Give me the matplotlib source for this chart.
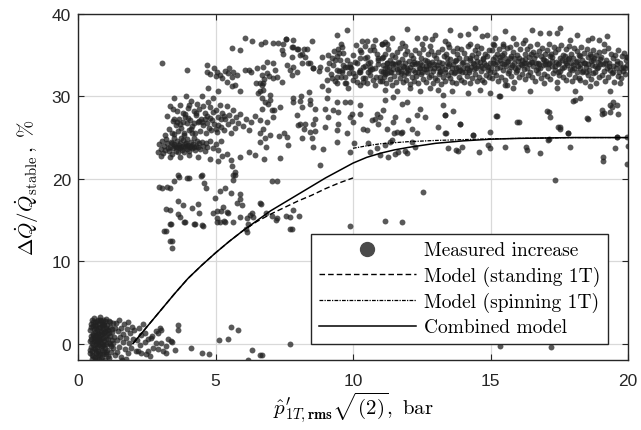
import matplotlib
matplotlib.use('Agg')
import matplotlib.pyplot as plt
from matplotlib.lines import Line2D

# ------------------------------------------------------------------ data
# model curves
comb_x = [2.0, 2.5, 3.0, 3.5, 4.0, 4.5, 5.0, 5.5, 6.0, 6.5, 7.0, 7.5, 8.0, 8.5, 9.0,
          9.5, 10.0, 10.5, 11.0, 11.5, 12.0, 12.5, 13.0, 13.5, 14.0, 15.0, 16.0, 17.0,
          18.0, 19.0, 20.0]
comb_y = [0.0, 2.0, 4.0, 6.0, 7.9, 9.5, 11.0, 12.4, 13.7, 14.9, 16.1, 17.1, 18.1, 19.1,
          20.1, 21.0, 21.9, 22.6, 23.1, 23.5, 23.8, 24.05, 24.3, 24.45, 24.6, 24.8,
          24.9, 24.95, 25.0, 25.0, 25.0]
stand_x = [2.0, 2.5, 3.0, 3.5, 4.0, 4.5, 5.0, 5.5, 6.0, 6.5, 7.0, 7.5, 8.0, 8.5, 9.0,
           9.5, 10.0]
stand_y = [0.0, 2.0, 4.0, 6.0, 7.9, 9.5, 11.0, 12.4, 13.7, 14.8, 15.7, 16.5, 17.3,
           18.0, 18.8, 19.5, 20.1]
spin_x = [10.0, 10.5, 11.0, 12.0, 13.0, 14.0, 15.0, 16.0, 17.0, 18.0, 20.0]
spin_y = [23.7, 24.0, 24.25, 24.5, 24.65, 24.75, 24.85, 24.9, 24.95, 25.0, 25.0]

# measured points (x: p'_1T,rms*sqrt2 [bar], y: dQ/Q [%])
pts_zero = [
    (0.42, -1.2), (0.44, 0.3), (0.45, 1.6), (0.46, 2.4), (0.47, -0.4), (0.48, 0.9), (0.5, -1.9),
    (0.5, 2.9), (0.51, -0.9), (0.52, 0.1), (0.53, 1.2), (0.54, 2.1), (0.55, -1.5), (0.56, -0.2),
    (0.57, 0.7), (0.58, 1.8), (0.59, 3.1), (0.6, -2.0), (0.6, -0.7), (0.61, 0.4), (0.62, 1.4),
    (0.63, 2.6), (0.64, -1.2), (0.65, 0.0), (0.66, 1.0), (0.67, 2.2), (0.68, -1.7), (0.69, -0.4),
    (0.7, 0.6), (0.7, 1.7), (0.71, 2.9), (0.72, -0.9), (0.73, 0.2), (0.74, 1.3), (0.75, 2.4),
    (0.76, -1.9), (0.77, -0.2), (0.78, 0.8), (0.79, 2.0), (0.8, 3.2), (0.8, -1.3), (0.81, 0.4),
    (0.82, 1.5), (0.83, 2.7), (0.84, -0.6), (0.85, 0.1), (0.86, 1.1), (0.87, 2.1), (0.88, -1.6),
    (0.89, -0.3), (0.9, 0.7), (0.91, 1.8), (0.92, 2.9), (0.93, -1.0), (0.94, 0.3), (0.95, 1.3),
    (0.96, 2.4), (0.97, -2.0), (0.98, -0.5), (0.99, 0.9), (1.0, 1.9), (1.01, 3.0), (1.02, -1.3),
    (1.03, 0.0), (1.05, 1.2), (1.06, 2.3), (1.07, -0.8), (1.09, 0.5), (1.1, 1.6), (1.12, 2.7),
    (1.13, -1.7), (1.15, -0.1), (1.16, 0.9), (1.18, 2.0), (1.2, -1.0), (1.22, 0.4), (1.24, 1.4),
    (1.26, 2.5), (1.28, -0.5), (1.3, 0.8), (1.33, 1.9), (1.35, -1.4),
    (0.45, -0.8), (0.47, 2.0), (0.49, 0.5), (0.52, -1.4), (0.53, 2.6), (0.55, 1.0), (0.57, -0.6),
    (0.58, 0.3), (0.6, 2.3), (0.62, -1.6), (0.63, 0.8), (0.65, 1.9), (0.66, -0.9), (0.68, 0.3),
    (0.69, 2.7), (0.71, -1.4), (0.72, 1.1), (0.74, -0.1), (0.75, 1.9), (0.77, 0.5), (0.78, -1.2),
    (0.79, 2.8), (0.81, 1.0), (0.83, -1.9), (0.84, 0.6), (0.86, 2.4), (0.87, -0.8), (0.89, 1.4),
    (0.9, -1.3), (0.92, 0.0), (0.93, 2.2), (0.95, -0.2), (0.97, 1.5), (0.98, 2.7), (1.0, -1.0),
    (1.02, 0.6), (1.04, 1.7), (1.08, -1.5), (1.11, 0.1), (1.14, 1.3), (1.17, 2.6), (1.21, -0.3),
    (1.25, 1.8), (1.29, 0.1),
]
pts_tail = [
    (1.38, 2.5), (1.4, 0.4), (1.42, -1.0), (1.45, 1.5), (1.48, 2.8), (1.5, -0.4), (1.53, 0.8),
    (1.56, 1.9), (1.58, -1.6), (1.62, 0.2), (1.65, 1.2), (1.68, 2.4), (1.7, -0.7), (1.74, 0.7),
    (1.78, 1.8), (1.8, -1.2), (1.83, 2.6), (1.86, 0.1), (1.9, 1.3), (1.93, -0.5), (1.97, 2.0),
    (2.0, 0.6), (2.05, 1.6), (2.1, -0.9), (2.15, 0.4), (2.2, 1.9), (2.25, -0.2), (2.3, 1.0),
    (2.38, 2.4), (2.45, 0.2), (1.6, -2.0), (1.75, -1.9),
    (2.42, 1.3), (2.55, 0.5), (2.91, 1.3), (3.03, 1.7), (2.67, 0.7), (2.85, 0.1), (3.03, 0.1),
    (3.27, 0.5), (3.51, -0.8), (3.39, 0.3), (2.18, -0.9), (2.3, -1.1), (2.55, -0.9), (2.73, -0.5),
    (2.91, -0.7), (3.09, -0.9), (3.21, -1.1), (2.48, -1.3), (2.68, 0.9), (2.85, 1.5), (2.97, 1.9),
    (3.4, 0.2), (3.64, 2.2), (3.64, 1.6), (3.2, -0.3), (2.6, -1.5), (4.1, -0.6), (4.5, -1.2),
    (4.75, -1.3), (5.13, 0.4), (5.45, 0.5), (5.57, 2.0), (5.82, 1.6), (6.17, -2.0), (6.33, -0.8),
    (6.61, -1.4), (6.68, -1.4), (7.72, -0.1), (15.35, -0.3), (17.2, -0.4),
]
pts_mid_low = [
    (3.2, 13.7), (3.38, 14.5), (3.4, 12.5), (3.4, 11.6), (3.85, 14.8), (4.2, 14.5), (4.5, 14.4),
    (5.04, 14.8), (5.3, 14.9), (6.1, 13.9), (7.2, 15.0), (7.7, 13.9),
    (3.65, 20.4), (3.67, 20.2), (3.95, 20.1), (4.02, 20.1), (4.46, 20.3), (4.58, 19.5),
    (4.64, 18.9), (3.04, 18.9), (3.34, 18.9), (3.65, 17.3), (3.83, 16.8), (3.34, 16.2),
    (3.65, 15.7), (3.71, 15.3), (4.13, 16.4), (4.37, 16.9), (4.4, 15.9), (3.89, 14.8),
    (4.25, 14.5), (4.55, 14.3), (3.34, 14.5), (3.13, 13.7), (3.34, 12.5), (4.98, 17.7),
    (5.16, 18.5), (5.34, 18.9), (5.65, 20.4), (5.65, 19.8), (5.58, 18.3), (5.89, 18.1),
    (5.89, 17.6), (5.77, 17.1), (5.95, 16.8), (6.67, 16.9), (4.92, 15.9), (5.07, 16.1),
    (5.2, 16.1), (5.28, 16.6), (5.4, 16.0), (5.44, 15.8), (5.04, 15.2), (5.16, 14.8),
    (5.34, 14.7), (5.65, 14.8), (5.89, 15.4), (6.13, 15.2), (6.31, 15.8), (6.25, 15.6),
    (6.38, 15.4), (6.19, 14.5), (6.13, 13.5), (6.85, 15.9),
    (2.94, 19.0), (3.22, 19.0), (3.2, 16.3), (3.5, 19.7), (4.5, 20.4), (5.1, 22.1),
    (5.6, 21.6), (5.7, 20.8), (5.72, 20.4),
    (6.76, 22.4), (7.34, 22.5), (7.07, 19.7), (7.22, 19.7), (6.62, 17.0), (7.07, 15.5),
    (7.22, 15.2), (7.58, 15.5), (7.7, 15.3), (8.05, 15.5), (7.8, 16.2), (7.77, 13.9),
    (8.8, 21.7), (9.89, 14.3), (11.16, 14.9), (11.77, 14.7), (12.56, 18.4), (17.35, 19.9),
]
pts_band_low = [
    (2.9, 23.3), (2.95, 24.2), (3.0, 23.6), (3.05, 24.6), (3.1, 23.1), (3.12, 24.0), (3.18, 23.5),
    (3.2, 24.8), (3.25, 24.3), (3.3, 23.4), (3.33, 23.9), (3.38, 24.5), (3.4, 23.0), (3.45, 23.7),
    (3.48, 24.9), (3.5, 24.2), (3.55, 23.4), (3.58, 23.9), (3.6, 24.6), (3.63, 23.2), (3.66, 24.1),
    (3.7, 23.7), (3.72, 24.4), (3.75, 25.0), (3.78, 23.5), (3.8, 24.0), (3.83, 24.7), (3.86, 23.3),
    (3.9, 23.9), (3.92, 24.3), (3.95, 23.6), (3.98, 24.8), (4.0, 24.1), (4.04, 23.4), (4.07, 23.9),
    (4.1, 24.5), (4.13, 23.7), (4.17, 24.2), (4.2, 24.9), (4.24, 23.5), (4.28, 24.0), (4.32, 24.6),
    (4.36, 23.8), (4.4, 24.3), (4.45, 23.6), (4.5, 24.5), (4.55, 24.0), (4.6, 23.4), (4.65, 24.4),
    (4.7, 23.9), (4.8, 24.6), (4.9, 23.7), (5.0, 24.2), (5.1, 23.5), (5.2, 24.6), (3.0, 22.8),
    (3.35, 22.6), (3.7, 22.7), (4.05, 22.9), (4.35, 22.6), (3.15, 25.3), (3.5, 25.4), (3.85, 25.3),
    (4.15, 25.5), (3.28, 23.7), (3.62, 23.8), (3.88, 24.2), (4.22, 23.9), (3.52, 24.0),
    (3.95, 24.0), (3.42, 24.3), (3.74, 23.9), (4.12, 24.0), (5.4, 23.0), (5.55, 22.3),
    (5.9, 22.6), (6.2, 23.3), (6.45, 22.9), (4.8, 22.4), (5.25, 22.8),
]
pts_blob = [
    (3.25, 27.6), (3.3, 26.0), (3.35, 28.8), (3.4, 25.6), (3.45, 27.0), (3.5, 29.8), (3.55, 26.5),
    (3.6, 28.2), (3.62, 25.8), (3.68, 27.3), (3.72, 29.0), (3.76, 26.2), (3.8, 28.0), (3.84, 25.5),
    (3.88, 27.5), (3.92, 30.0), (3.96, 26.8), (4.0, 28.6), (4.04, 25.9), (4.08, 27.1), (4.12, 29.5),
    (4.16, 26.4), (4.2, 28.2), (4.24, 25.6), (4.28, 27.7), (4.32, 29.1), (4.36, 26.9), (4.4, 28.5),
    (4.44, 25.8), (4.48, 27.3), (4.52, 30.1), (4.56, 26.5), (4.6, 28.0), (4.64, 25.5), (4.68, 27.6),
    (4.72, 29.3), (4.76, 26.2), (4.8, 28.7), (4.84, 25.9), (4.88, 27.1), (4.92, 29.8), (4.96, 26.7),
    (5.0, 28.3), (5.05, 25.7), (5.1, 27.5), (5.15, 29.0), (5.2, 26.3), (5.25, 28.0), (5.3, 25.9),
    (5.35, 27.2), (5.4, 28.8), (5.45, 26.6), (5.5, 27.8), (5.55, 25.6), (5.6, 27.0), (5.65, 28.4),
    (5.7, 26.2), (5.75, 27.5), (5.8, 26.8), (5.9, 27.9), (6.0, 26.4), (6.1, 27.3), (6.2, 25.9),
    (6.3, 26.9), (6.45, 27.6), (6.6, 25.6),
    (3.5, 27.2), (3.7, 26.6), (3.9, 27.9), (4.1, 26.1), (4.3, 28.0), (4.5, 26.9), (4.7, 26.8),
    (4.9, 28.1), (5.1, 26.5), (5.3, 27.6), (3.6, 26.9), (4.0, 27.4), (4.4, 27.0), (4.8, 27.4),
    (5.2, 27.3), (3.8, 26.9), (4.2, 26.8), (4.6, 27.2), (3.45, 28.5), (4.05, 29.0), (4.55, 28.8),
    (5.0, 26.0),
]
pts_upper_left = [
    (3.95, 33.2), (4.68, 33.0), (4.8, 32.7), (5.0, 32.5), (5.16, 32.6), (5.35, 33.1), (5.47, 32.8),
    (5.59, 32.4), (5.77, 32.6), (6.08, 33.2), (6.2, 33.2), (6.62, 31.6), (6.74, 30.8), (6.86, 32.8),
    (4.74, 31.0), (5.1, 30.6), (5.4, 31.8), (5.71, 31.4), (5.89, 30.6), (6.56, 30.4),
    (3.04, 34.1), (5.6, 35.9), (5.88, 35.6), (6.08, 37.1), (4.68, 33.8), (4.93, 33.4),
    (5.05, 33.0), (5.22, 32.2), (5.5, 33.5), (5.63, 32.9), (5.6, 31.2), (6.3, 32.9), (6.5, 33.5),
    (6.34, 36.7), (6.65, 36.3), (7.1, 36.5), (7.58, 37.0), (7.42, 35.6), (7.77, 36.0),
    (8.0, 35.8), (8.38, 34.1), (8.55, 33.5), (8.75, 33.1), (7.6, 33.8), (7.72, 33.2),
    (7.23, 32.3), (6.93, 32.5), (6.75, 32.1), (6.7, 31.4), (6.48, 31.6), (6.6, 30.6),
    (6.7, 29.8), (6.8, 29.3), (7.14, 28.3), (7.8, 29.8), (8.1, 30.0), (8.4, 30.5), (8.6, 28.5),
    (8.25, 26.6), (8.6, 27.2), (8.62, 25.8), (7.5, 25.6), (7.3, 25.2),
    (9.77, 38.1), (9.43, 37.4), (9.55, 36.4), (9.59, 36.0), (9.47, 35.7), (9.5, 35.3), (7.57, 37.0),
    (7.83, 36.9), (8.52, 36.7), (7.29, 36.5), (7.47, 36.3), (6.8, 36.6), (7.83, 36.0),
    (7.98, 35.7), (8.2, 35.8), (8.32, 35.7), (8.07, 35.0), (8.14, 35.2), (8.26, 34.8), (7.77, 34.8),
    (7.47, 35.2), (6.86, 34.2), (7.1, 34.0), (6.74, 33.6), (6.68, 32.6), (6.72, 31.6), (7.1, 32.2),
    (7.41, 31.8), (7.17, 33.2), (7.77, 32.6), (7.95, 33.0), (7.83, 33.6), (8.14, 34.0),
    (8.44, 34.0), (8.56, 33.4), (8.8, 33.6), (8.86, 34.8), (9.1, 35.0), (9.23, 34.6), (9.35, 34.4),
    (9.53, 34.4), (9.65, 33.8), (9.77, 33.6), (9.41, 33.2), (9.59, 33.0), (9.71, 32.4),
    (9.41, 32.4), (9.23, 32.2), (9.04, 32.0), (8.86, 31.3), (9.1, 30.8), (9.41, 31.6), (9.71, 31.6),
    (9.83, 31.0), (10.01, 32.0), (10.01, 32.8), (9.89, 33.6), (10.26, 33.2), (10.38, 33.6),
    (10.56, 34.0), (10.62, 33.2), (10.8, 33.4), (10.92, 34.4), (11.1, 34.8), (11.23, 34.0),
    (11.17, 33.0), (10.98, 32.4), (10.74, 32.0), (10.5, 31.6), (10.26, 31.4), (10.14, 31.8),
    (10.38, 32.2), (10.62, 32.6), (10.86, 35.2), (10.62, 35.6), (10.44, 36.1), (10.32, 36.7),
    (10.5, 36.7), (10.8, 36.9), (11.04, 36.3), (11.23, 36.3), (10.74, 36.1), (10.26, 35.6),
    (10.07, 34.2), (10.26, 34.6), (10.44, 34.6),
]
pts_mid_scatter = [
    (6.98, 30.2), (6.98, 29.6), (6.92, 29.1), (6.68, 28.5), (7.04, 28.3), (6.62, 27.1), (7.1, 27.5),
    (6.86, 26.9), (7.35, 28.7), (7.83, 29.3), (8.07, 29.5), (8.44, 29.6), (8.14, 28.7),
    (7.95, 27.7), (8.07, 26.7), (8.01, 26.5), (8.2, 26.1), (8.44, 25.7), (8.56, 26.7), (8.44, 29.1),
    (9.04, 29.8), (9.41, 29.3), (9.71, 29.3), (9.89, 29.3), (8.98, 28.5), (9.29, 28.3),
    (9.47, 28.1), (9.1, 27.5), (8.98, 26.3), (9.47, 26.7), (9.41, 25.9), (9.95, 27.9),
    (9.89, 27.5), (10.01, 26.9), (9.77, 25.5), (10.26, 28.9), (10.26, 27.9), (10.38, 26.1),
    (10.5, 25.9), (10.68, 27.1), (10.8, 27.2), (10.86, 27.9), (10.98, 27.5), (10.92, 26.7),
    (7.59, 25.1), (8.14, 24.9), (8.5, 24.9), (6.8, 24.9), (6.98, 25.3),
    (6.74, 26.1), (6.62, 24.5), (6.84, 23.9), (7.65, 24.1), (8.56, 23.9), (8.92, 23.6),
    (9.43, 24.5), (9.89, 23.3), (10.04, 24.4), (10.56, 24.3), (10.62, 23.2), (10.86, 23.7),
    (11.16, 24.1), (11.28, 22.6), (10.98, 22.9), (11.34, 24.5), (11.5, 25.6), (11.75, 25.6),
    (11.52, 23.0), (11.64, 23.2), (11.88, 23.4), (11.95, 23.1), (12.15, 24.5), (12.27, 23.9),
    (12.33, 25.5), (13.39, 25.5), (13.45, 23.7), (13.76, 23.5), (13.82, 23.4), (13.98, 23.8),
    (14.37, 25.3), (14.59, 23.2), (14.92, 24.1), (14.98, 23.7), (15.53, 23.8), (16.3, 23.9),
    (16.33, 23.5), (16.81, 23.1), (17.08, 24.7), (17.53, 26.1), (17.83, 25.5), (17.9, 23.9),
    (19.1, 22.6), (19.1, 22.2), (19.53, 23.7), (19.6, 25.1), (19.96, 21.8), (20.0, 24.0),
    (11.16, 29.6), (11.46, 29.9), (11.1, 28.3), (11.77, 29.1), (11.95, 29.3), (11.46, 26.9),
    (11.53, 27.5), (11.22, 26.1), (11.59, 25.7), (11.77, 25.7), (12.13, 26.1), (12.01, 27.1),
    (12.31, 27.7), (12.62, 27.5), (13.28, 28.9), (13.65, 28.2), (13.34, 27.7), (13.89, 26.7),
    (13.1, 26.3), (13.34, 25.5), (14.37, 25.3), (14.98, 25.7), (15.22, 27.6), (11.4, 24.7),
    (15.35, 30.0), (18.08, 29.6), (18.26, 29.8), (17.11, 28.1), (17.17, 27.5), (16.02, 26.9),
    (17.53, 26.3), (17.83, 25.5), (18.56, 27.3), (19.05, 28.3), (19.12, 28.0), (19.41, 28.7),
    (19.59, 28.9), (19.35, 28.1), (19.65, 27.9), (17.11, 24.8), (19.59, 25.1), (19.96, 25.1),
    (15.2, 27.6), (15.98, 26.9), (17.05, 28.2), (17.47, 26.3), (18.0, 29.5), (18.5, 27.4),
    (19.07, 27.9), (19.35, 28.9), (19.45, 29.3), (12.44, 28.5), (13.35, 27.7), (13.9, 26.7),
]
pts_band_edges = [
    (11.95, 38.2), (13.53, 38.0), (14.43, 38.3), (11.4, 37.1), (12.31, 37.1), (12.62, 37.1),
    (12.86, 37.0), (12.98, 37.5), (13.89, 37.5), (14.19, 37.6), (14.68, 37.3), (14.86, 37.4),
    (15.16, 37.1), (11.04, 36.3), (11.16, 36.6), (11.77, 36.5), (11.89, 36.1), (12.5, 36.3),
    (12.8, 36.1), (13.34, 36.7), (13.46, 36.3), (13.77, 35.9), (14.25, 36.4), (14.5, 36.1),
    (15.1, 36.3), (15.46, 36.1),
    (11.16, 30.8), (11.59, 30.6), (12.07, 31.0), (12.43, 30.6), (12.8, 31.0), (13.1, 30.8),
    (13.59, 30.6), (14.19, 30.4), (14.62, 30.8), (14.98, 30.4), (15.31, 30.0), (15.53, 31.4),
    (13.28, 30.2),
    (16.5, 38.1), (17.53, 38.3), (18.14, 37.5), (18.68, 37.1), (19.23, 37.3), (16.8, 37.7),
    (17.11, 37.7), (17.41, 37.7), (15.83, 37.1), (16.26, 36.9), (18.56, 36.9), (18.93, 36.9),
    (15.53, 37.9), (17.9, 36.9), (19.11, 36.3),
    (15.83, 31.0), (16.44, 30.6), (17.41, 31.0), (18.08, 30.6), (18.62, 31.2), (19.35, 30.6),
    (19.71, 31.6), (19.9, 33.4), (19.96, 34.8), (15.59, 31.4), (16.93, 31.6), (18.26, 32.0),
]
pts_core_a = [
    (9.05, 33.3), (9.12, 34.1), (9.2, 32.7), (9.28, 33.8), (9.35, 31.9), (9.42, 34.9), (9.5, 33.1),
    (9.57, 32.3), (9.64, 35.3), (9.7, 33.6), (9.78, 34.4), (9.85, 32.8), (9.92, 33.4), (10.0, 35.0),
    (10.08, 32.5), (10.15, 34.0), (10.2, 33.0), (10.3, 35.4), (10.35, 31.7), (10.42, 33.7),
    (10.5, 34.8), (10.56, 32.9), (10.63, 34.2), (10.7, 33.3), (10.78, 35.6), (10.85, 32.4),
    (10.92, 33.9), (10.98, 31.9), (9.6, 33.2), (9.9, 33.9), (10.25, 32.9), (10.6, 33.6),
    (10.9, 34.6), (9.3, 35.5), (9.75, 31.6), (10.1, 36.2), (10.45, 32.2), (10.8, 31.4),
]
pts_core_b = [
    (11.02, 33.1), (11.05, 34.6), (11.07, 31.9), (11.1, 33.8), (11.12, 32.4), (11.15, 35.2),
    (11.18, 33.4), (11.2, 31.6), (11.23, 34.1), (11.25, 32.8), (11.28, 35.7), (11.3, 33.6),
    (11.33, 32.1), (11.36, 34.4), (11.38, 33.0), (11.41, 31.4), (11.43, 35.0), (11.46, 33.3),
    (11.49, 32.5), (11.51, 34.8), (11.54, 33.9), (11.56, 31.8), (11.59, 35.4), (11.62, 32.9),
    (11.64, 34.2), (11.67, 33.5), (11.7, 32.2), (11.72, 35.9), (11.75, 33.1), (11.77, 34.5),
    (11.8, 31.7), (11.83, 33.7), (11.85, 32.6), (11.88, 35.1), (11.9, 34.0), (11.93, 32.0),
    (11.96, 33.4), (11.98, 35.5), (12.01, 32.8), (12.04, 34.3), (12.06, 31.5), (12.09, 33.6),
    (12.11, 35.0), (12.14, 32.3), (12.17, 34.7), (12.19, 33.2), (12.22, 31.9), (12.25, 35.6),
    (12.27, 33.9), (12.3, 32.5), (12.32, 34.1), (12.35, 33.0), (12.38, 31.6), (12.4, 35.3),
    (12.43, 33.5), (12.46, 32.7), (12.48, 34.6), (12.51, 33.8), (12.53, 32.1), (12.56, 35.8),
    (12.59, 33.3), (12.61, 34.4), (12.64, 31.8), (12.67, 33.7), (12.69, 32.9), (12.72, 35.2),
    (12.75, 34.0), (12.77, 32.4), (12.8, 33.4), (12.82, 35.5), (12.85, 32.6), (12.88, 34.2),
    (12.9, 31.6), (12.93, 33.9), (12.96, 35.0), (12.98, 32.2),
    (11.08, 33.0), (11.22, 33.5), (11.35, 32.9), (11.47, 33.9), (11.6, 33.3), (11.74, 32.8),
    (11.87, 33.6), (12.0, 33.2), (12.13, 33.9), (12.26, 32.9), (12.39, 33.4), (12.52, 32.9),
    (12.65, 33.3), (12.78, 33.8), (12.92, 33.1), (11.15, 32.7), (11.4, 34.0), (11.66, 34.1),
    (11.92, 33.0), (12.2, 34.2), (12.45, 34.0), (12.7, 34.3), (12.95, 33.5),
]
pts_core_c = [
    (13.01, 34.6), (13.04, 32.0), (13.06, 33.8), (13.09, 35.4), (13.12, 32.7), (13.14, 34.2),
    (13.17, 33.1), (13.2, 31.5), (13.22, 35.8), (13.25, 33.6), (13.28, 32.4), (13.3, 34.9),
    (13.33, 33.3), (13.36, 31.9), (13.38, 35.2), (13.41, 34.0), (13.44, 32.6), (13.46, 33.7),
    (13.49, 36.0), (13.52, 32.2), (13.54, 34.5), (13.57, 33.0), (13.6, 31.7), (13.62, 35.5),
    (13.65, 33.9), (13.68, 32.8), (13.7, 34.3), (13.73, 33.4), (13.76, 31.6), (13.78, 35.1),
    (13.81, 33.6), (13.84, 32.3), (13.86, 34.7), (13.89, 33.2), (13.92, 35.7), (13.94, 32.0),
    (13.97, 34.1), (14.0, 33.5), (14.02, 31.8), (14.05, 35.3), (14.08, 33.0), (14.1, 34.6),
    (14.13, 32.5), (14.16, 33.8), (14.18, 36.1), (14.21, 32.9), (14.24, 34.4), (14.26, 31.6),
    (14.29, 33.6), (14.32, 35.0), (14.34, 32.2), (14.37, 34.0), (14.4, 33.3), (14.42, 35.6),
    (14.45, 32.7), (14.48, 34.8), (14.5, 31.9), (14.53, 33.7), (14.56, 35.3), (14.58, 32.4),
    (14.61, 34.2), (14.64, 33.1), (14.66, 35.9), (14.69, 32.0), (14.72, 34.5), (14.74, 33.4),
    (14.77, 31.7), (14.8, 35.2), (14.82, 33.8), (14.85, 32.6), (14.88, 34.9), (14.9, 33.2),
    (14.93, 35.6), (14.96, 32.3), (14.98, 34.1),
    (13.1, 33.4), (13.23, 34.1), (13.35, 33.0), (13.48, 33.9), (13.6, 33.5), (13.74, 34.4),
    (13.87, 33.1), (14.0, 34.2), (14.14, 33.4), (14.27, 34.6), (14.4, 33.9), (14.52, 34.3),
    (14.65, 33.7), (14.78, 34.0), (14.91, 33.6), (13.15, 32.9), (13.42, 34.6), (13.7, 32.9),
    (13.96, 33.0), (14.22, 33.2), (14.47, 33.4), (14.74, 34.7), (14.97, 33.0),
]
pts_core_d = [
    (15.01, 33.4), (15.04, 35.6), (15.06, 32.2), (15.09, 34.5), (15.12, 33.0), (15.14, 36.2),
    (15.17, 33.9), (15.2, 32.6), (15.22, 35.1), (15.25, 34.2), (15.28, 31.9), (15.3, 35.8),
    (15.33, 33.6), (15.36, 34.8), (15.38, 32.4), (15.41, 34.0), (15.44, 36.4), (15.46, 33.2),
    (15.49, 35.3), (15.52, 32.0), (15.54, 34.6), (15.57, 33.7), (15.6, 35.9), (15.62, 32.8),
    (15.65, 34.3), (15.68, 33.1), (15.7, 36.0), (15.73, 34.9), (15.76, 32.5), (15.78, 33.8),
    (15.81, 35.4), (15.84, 31.8), (15.86, 34.1), (15.89, 33.4), (15.92, 36.3), (15.94, 32.9),
    (15.97, 35.0), (16.0, 33.6), (16.02, 34.7), (16.05, 32.3), (16.08, 35.7), (16.1, 33.9),
    (16.13, 32.7), (16.16, 34.4), (16.18, 36.5), (16.21, 33.3), (16.24, 35.2), (16.26, 32.1),
    (16.29, 34.0), (16.32, 33.5), (16.34, 35.8), (16.37, 32.6), (16.4, 34.8), (16.42, 33.0),
    (16.45, 36.1), (16.48, 34.2), (16.5, 32.4), (16.53, 35.4), (16.56, 33.7), (16.58, 34.6),
    (16.61, 31.9), (16.64, 35.0), (16.66, 33.2), (16.69, 36.3), (16.72, 34.1), (16.74, 32.8),
    (16.77, 35.5), (16.8, 33.5), (16.82, 34.9), (16.85, 32.2), (16.88, 35.9), (16.9, 33.8),
    (16.93, 34.4), (16.96, 32.7), (16.98, 35.2),
    (15.1, 34.0), (15.23, 33.5), (15.35, 34.4), (15.48, 33.9), (15.6, 34.2), (15.74, 33.6),
    (15.87, 34.7), (16.0, 34.3), (16.14, 33.8), (16.27, 34.5), (16.4, 33.9), (16.52, 34.2),
    (16.65, 34.0), (16.78, 33.9), (16.91, 34.5), (15.16, 34.8), (15.42, 35.0), (15.7, 34.6),
    (15.96, 33.2), (16.22, 34.0), (16.47, 35.1), (16.74, 33.4), (16.97, 33.9),
]
pts_core_e = [
    (17.01, 34.3), (17.04, 32.5), (17.06, 35.6), (17.09, 33.4), (17.12, 36.4), (17.14, 34.0),
    (17.17, 32.1), (17.2, 35.1), (17.22, 33.7), (17.25, 34.8), (17.28, 32.8), (17.3, 36.0),
    (17.33, 33.2), (17.36, 35.4), (17.38, 34.2), (17.41, 31.8), (17.44, 33.9), (17.46, 35.8),
    (17.49, 32.6), (17.52, 34.6), (17.54, 33.1), (17.57, 36.2), (17.6, 34.4), (17.62, 32.3),
    (17.65, 35.0), (17.68, 33.6), (17.7, 34.9), (17.73, 32.0), (17.76, 35.7), (17.78, 33.8),
    (17.81, 34.5), (17.84, 32.7), (17.86, 36.1), (17.89, 33.3), (17.92, 35.2), (17.94, 34.0),
    (17.97, 31.9), (18.0, 34.7), (18.02, 33.5), (18.05, 35.9), (18.08, 32.4), (18.1, 34.2),
    (18.13, 33.0), (18.16, 35.5), (18.18, 33.7), (18.21, 32.2), (18.24, 34.9), (18.26, 33.4),
    (18.29, 36.0), (18.32, 32.9), (18.34, 34.4), (18.37, 33.1), (18.4, 35.3), (18.42, 31.8),
    (18.45, 34.1), (18.48, 33.6), (18.5, 35.7), (18.53, 32.6), (18.56, 34.8), (18.58, 33.2),
    (18.61, 35.1), (18.64, 32.1), (18.66, 34.3), (18.69, 33.8), (18.72, 35.6), (18.74, 32.8),
    (18.77, 34.6), (18.8, 33.0), (18.82, 31.6), (18.85, 35.0), (18.88, 33.5), (18.9, 34.2),
    (18.93, 32.4), (18.96, 35.4), (18.98, 33.9),
    (17.1, 33.9), (17.23, 34.3), (17.36, 33.7), (17.48, 34.1), (17.61, 33.5), (17.74, 34.0),
    (17.87, 34.6), (18.0, 33.8), (18.14, 34.3), (18.27, 33.9), (18.4, 34.0), (18.53, 33.9),
    (18.66, 34.9), (18.79, 33.7), (18.92, 33.6), (17.18, 34.9), (17.45, 33.0), (17.72, 34.3),
    (17.98, 33.2), (18.2, 35.0), (18.47, 32.9), (18.73, 34.4), (18.97, 34.5),
]
pts_core_f = [
    (19.02, 34.8), (19.05, 32.6), (19.08, 33.9), (19.11, 35.5), (19.14, 33.1), (19.17, 31.9),
    (19.2, 34.4), (19.23, 33.5), (19.26, 35.9), (19.29, 32.3), (19.32, 34.0), (19.35, 33.2),
    (19.38, 35.2), (19.41, 32.8), (19.44, 34.6), (19.47, 33.7), (19.5, 31.7), (19.53, 35.0),
    (19.56, 33.4), (19.59, 34.3), (19.62, 32.5), (19.65, 35.6), (19.68, 33.0), (19.71, 34.1),
    (19.74, 32.2), (19.77, 34.9), (19.8, 33.6), (19.83, 33.1), (19.86, 35.3), (19.89, 32.7),
    (19.92, 34.4), (19.95, 33.8), (19.98, 34.8), (19.3, 33.7), (19.6, 33.9), (19.15, 34.1),
    (19.45, 32.9), (19.75, 33.4),
]

x_ticks = [0, 5, 10, 15, 20]
y_ticks = [0, 10, 20, 30, 40]
legend_labels = ['Measured increase', 'Model (standing 1T)', 'Model (spinning 1T)',
                 'Combined model']

# ------------------------------------------------------------------ plot
plt.rcParams['mathtext.fontset'] = 'cm'
plt.rcParams['font.family'] = ['Liberation Sans', 'DejaVu Sans']

fig = plt.figure(figsize=(6.41, 4.31), dpi=100)
ax = fig.add_axes([78 / 641, 1 - 361 / 431, 550 / 641, 346 / 431])

all_pts = (pts_zero + pts_tail + pts_mid_low + pts_band_low + pts_blob + pts_upper_left
           + pts_mid_scatter + pts_band_edges + pts_core_a + pts_core_b + pts_core_c
           + pts_core_d + pts_core_e + pts_core_f)
sx = [p[0] for p in all_pts]
sy = [p[1] for p in all_pts]
ax.scatter(sx, sy, s=18, color='#222222', alpha=0.75, linewidths=0, zorder=2)

ax.plot(stand_x, stand_y, color='black', lw=1.0, ls=(0, (4, 2.2)), zorder=3)
ax.plot(spin_x, spin_y, color='black', lw=0.9, ls=(0, (3, 1, 1, 1)), zorder=3)
ax.plot(comb_x, comb_y, color='black', lw=1.1, zorder=4)

ax.set_xlim(0, 20)
ax.set_ylim(-2, 40)
ax.set_xticks(x_ticks)
ax.set_yticks(y_ticks)
ax.grid(True, color='#d9d9d9', lw=0.9, zorder=0)
ax.set_axisbelow(True)
ax.tick_params(direction='in', length=4, width=0.8, top=True, right=True,
               labelsize=12.5, colors='#262626')
ax.tick_params(axis='x', pad=9)
ax.tick_params(axis='y', pad=5)
for sp in ax.spines.values():
    sp.set_color('#262626')
    sp.set_linewidth(1.0)

ax.set_ylabel(r'$\Delta\dot{Q}/\dot{Q}_{\mathrm{stable}}\,,\ \%$', fontsize=15, labelpad=8)
ax.set_xlabel(r"$\hat{p}^{\prime}_{1T,\mathbf{rms}}\sqrt{(2)},\ \mathrm{bar}$", fontsize=15,
              labelpad=1)

handles = [
    Line2D([], [], marker='o', ls='', color='#4a4a4a', markersize=10),
    Line2D([], [], color='black', lw=1.0, ls=(0, (4, 2.2))),
    Line2D([], [], color='black', lw=0.9, ls=(0, (3, 1, 1, 1))),
    Line2D([], [], color='black', lw=1.1),
]
leg = ax.legend(handles, legend_labels, loc='lower right',
                bbox_to_anchor=(0.9636, 0.046), bbox_transform=ax.transAxes,
                borderaxespad=0, frameon=True, fancybox=False, framealpha=1,
                edgecolor='#262626', handlelength=5.0, handletextpad=0.4,
                labelspacing=0.32, borderpad=0.4,
                prop={'family': 'cmr10', 'size': 14})
leg.get_frame().set_linewidth(1.0)
leg.set_zorder(5)

fig.savefig('out.png', dpi=100)
